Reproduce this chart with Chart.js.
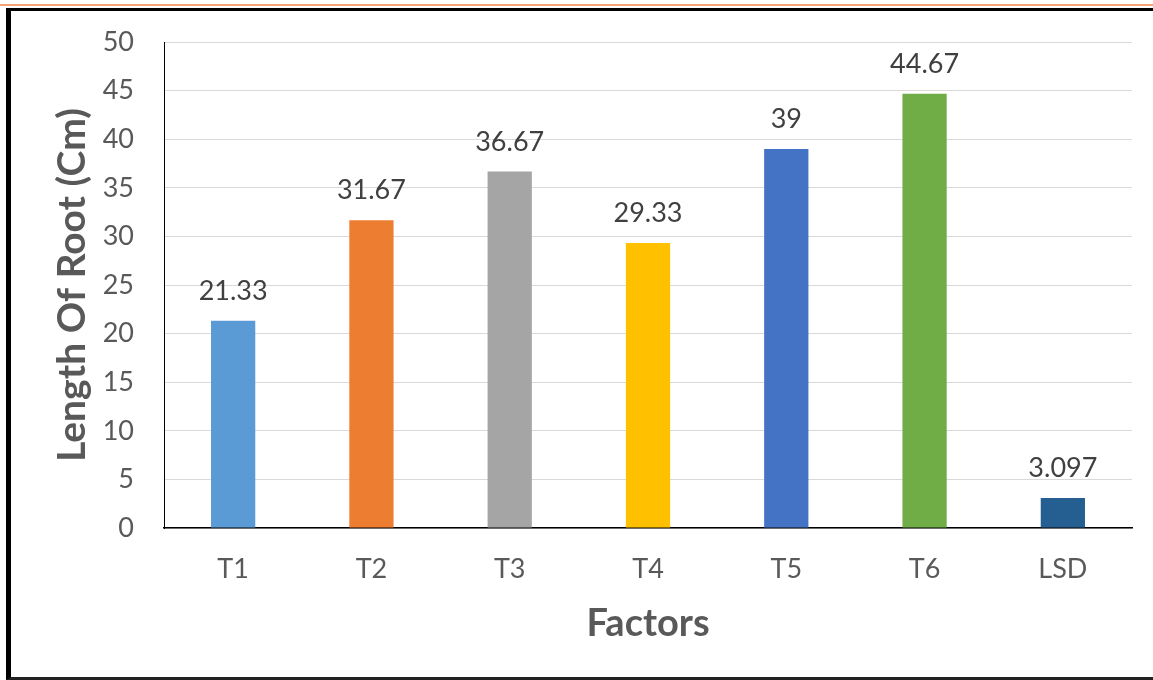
<!DOCTYPE html>
<html>
<head>
<meta charset="utf-8">
<script src="https://cdn.jsdelivr.net/npm/chart.js@4"></script>
<style>
  html, body { margin: 0; padding: 0; background: #fff; overflow: hidden; }
  #orange { position: absolute; left: 0; top: 4px; width: 1153px; height: 2px; background: #F4A46E; }
  #frame { position: absolute; left: 6px; top: 8px; width: 1200px; height: 672px; box-sizing: border-box;
           border-left: 5px solid #000; border-top: 3px solid #000; border-bottom: 3px solid #222; }
  #wrap { position: absolute; left: 0; top: 0; width: 1153px; height: 680px; }
</style>
</head>
<body>
<div id="orange"></div>
<div id="frame"></div>
<div id="wrap"><canvas id="c"></canvas></div>
<script>
const categories = ["T1", "T2", "T3", "T4", "T5", "T6", "LSD"];
const values = [21.33, 31.67, 36.67, 29.33, 39, 44.67, 3.097];
const barColors = ["#5B9BD5", "#ED7D31", "#A5A5A5", "#FFC000", "#4472C4", "#70AD47", "#255E91"];
const yTitle = "Length Of Root (Cm)";
const xTitle = "Factors";

const labelPlugin = {
  id: 'barLabels',
  afterDatasetsDraw(chart) {
    const ctx = chart.ctx;
    const meta = chart.getDatasetMeta(0);
    ctx.save();
    ctx.font = '27px Lato';
    ctx.fillStyle = '#404040';
    ctx.textAlign = 'center';
    ctx.textBaseline = 'bottom';
    meta.data.forEach((bar, i) => {
      ctx.fillText(String(chart.data.datasets[0].data[i]), bar.x, bar.y - 16);
    });
    ctx.restore();
  }
};

new Chart(document.getElementById('c'), {
  type: 'bar',
  data: {
    labels: categories,
    datasets: [{ data: values, backgroundColor: barColors, barPercentage: 0.32, categoryPercentage: 1 }]
  },
  options: {
    responsive: true,
    maintainAspectRatio: false,
    animation: false,
    layout: { padding: { top: 42, right: 21, bottom: 0, left: 0 } },
    plugins: { legend: { display: false }, tooltip: { enabled: false } },
    scales: {
      x: {
        grid: { display: false, drawTicks: false },
        border: { color: '#000', width: 1.5 },
        ticks: { color: '#595959', font: { family: 'Lato', size: 27 }, padding: 25 },
        title: { display: true, text: xTitle, color: '#595959', font: { family: 'Lato', size: 38, weight: 'bold' }, padding: { top: 0, bottom: 33 } },
        afterFit(axis) { axis.height = 152; }
      },
      y: {
        min: 0, max: 50,
        ticks: { stepSize: 5, color: '#595959', font: { family: 'Lato', size: 27 }, padding: 8 },
        grid: { color: '#D9D9D9', lineWidth: 1, drawTicks: true, tickLength: 22, tickColor: 'rgba(0,0,0,0)' },
        border: { color: '#000', width: 1 },
        title: { display: true, text: yTitle, color: '#595959', font: { family: 'Lato', size: 39, weight: 'bold' }, padding: { top: 49, bottom: 0 } },
        afterFit(axis) { axis.width = 164; }
      }
    }
  },
  plugins: [labelPlugin]
});
</script>
</body>
</html>
